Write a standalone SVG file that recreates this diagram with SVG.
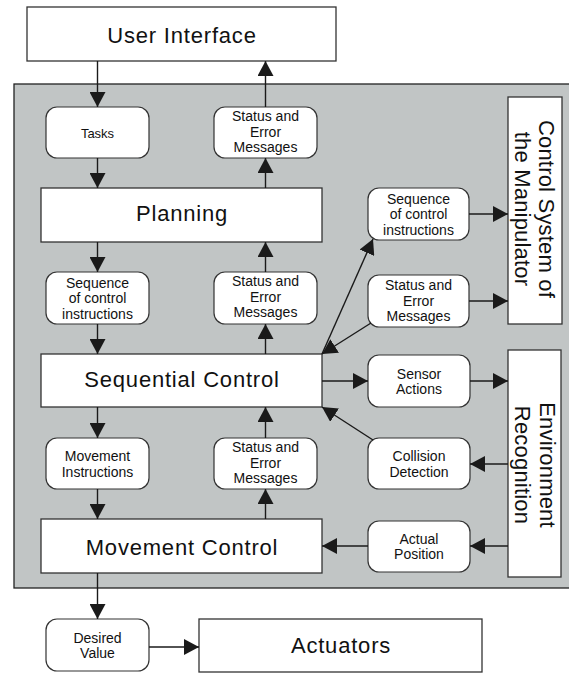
<svg xmlns="http://www.w3.org/2000/svg" width="569" height="673" viewBox="0 0 569 673">
<style>
.box{fill:#fff;stroke:#333;stroke-width:1.3}
.rbox{fill:#fff;stroke:#333;stroke-width:1.2}
.big{font-family:"Liberation Sans",Arial,sans-serif;font-size:22px;fill:#111;text-anchor:middle;letter-spacing:0.8px}
.vert{font-family:"Liberation Sans",Arial,sans-serif;font-size:22px;fill:#111;text-anchor:middle;letter-spacing:0.2px}
.sm{font-family:"Liberation Sans",Arial,sans-serif;font-size:14px;fill:#111;text-anchor:middle}
.cn line{stroke:#1a1a1a;stroke-width:1.4;marker-end:url(#ah)}
</style>
<defs>
<marker id="ah" markerUnits="userSpaceOnUse" markerWidth="17" markerHeight="16" refX="15" refY="8" orient="auto">
<path d="M0,0 L15,8 L0,16 z" fill="#1a1a1a"/>
</marker>
</defs>
<rect width="569" height="673" fill="#fff"/>
<g id="panel"><rect x="14" y="84" width="560" height="504" fill="#c1c5c5" stroke="#222" stroke-width="1.3"/></g>

<g id="user-interface"><rect class="box" x="27" y="7" width="309" height="54"/><text class="big" x="182" y="43">User Interface</text></g>
<g id="tasks"><rect class="rbox" x="46" y="107" width="103" height="51" rx="11"/><text class="sm" x="97.5" y="137.5" style="font-size:13px">Tasks</text></g>
<g id="status1"><rect class="rbox" x="214" y="107" width="103" height="51" rx="11"/><text class="sm" x="265.5" y="121">Status and</text><text class="sm" x="265.5" y="136.5">Error</text><text class="sm" x="265.5" y="152">Messages</text></g>
<g id="planning"><rect class="box" x="41" y="188" width="281" height="54"/><text class="big" x="182" y="221">Planning</text></g>
<g id="seq-left"><rect class="rbox" x="46" y="272" width="103" height="52" rx="11"/><text class="sm" x="97.5" y="287.5">Sequence</text><text class="sm" x="97.5" y="303">of control</text><text class="sm" x="97.5" y="318.5">instructions</text></g>
<g id="status2"><rect class="rbox" x="214" y="272" width="103" height="52" rx="11"/><text class="sm" x="265.5" y="286">Status and</text><text class="sm" x="265.5" y="301.5">Error</text><text class="sm" x="265.5" y="317">Messages</text></g>
<g id="sequential-control"><rect class="box" x="41" y="354" width="281" height="53"/><text class="big" x="182" y="387">Sequential Control</text></g>
<g id="movement-instructions"><rect class="rbox" x="46" y="438" width="103" height="51" rx="11"/><text class="sm" x="97.5" y="461">Movement</text><text class="sm" x="97.5" y="476.5">Instructions</text></g>
<g id="status3"><rect class="rbox" x="214" y="438" width="103" height="51" rx="11"/><text class="sm" x="265.5" y="452">Status and</text><text class="sm" x="265.5" y="467.5">Error</text><text class="sm" x="265.5" y="483">Messages</text></g>
<g id="movement-control"><rect class="box" x="41" y="519" width="281" height="54"/><text class="big" x="182" y="555">Movement Control</text></g>
<g id="desired-value"><rect class="rbox" x="46" y="619" width="103" height="52" rx="11"/><text class="sm" x="97.5" y="643">Desired</text><text class="sm" x="97.5" y="658">Value</text></g>
<g id="actuators"><rect class="box" x="199" y="619" width="283" height="53"/><text class="big" x="341" y="653">Actuators</text></g>

<g id="seq-right"><rect class="rbox" x="368" y="188" width="101" height="52" rx="11"/><text class="sm" x="418.5" y="203.5">Sequence</text><text class="sm" x="418.5" y="219">of control</text><text class="sm" x="418.5" y="234.5">instructions</text></g>
<g id="status-right"><rect class="rbox" x="368" y="275" width="101" height="52" rx="11"/><text class="sm" x="418.5" y="290">Status and</text><text class="sm" x="418.5" y="305.5">Error</text><text class="sm" x="418.5" y="321">Messages</text></g>
<g id="control-system"><rect class="box" x="508" y="97" width="54" height="227"/><text class="vert" transform="translate(539,209) rotate(90)"><tspan x="0" y="0">Control System of</tspan><tspan x="0" y="24">the Manipulator</tspan></text></g>
<g id="sensor-actions"><rect class="rbox" x="368" y="355" width="102" height="52" rx="11"/><text class="sm" x="419" y="378.5">Sensor</text><text class="sm" x="419" y="393.5">Actions</text></g>
<g id="collision-detection"><rect class="rbox" x="368" y="438" width="102" height="51" rx="11"/><text class="sm" x="419" y="461">Collision</text><text class="sm" x="419" y="476.5">Detection</text></g>
<g id="actual-position"><rect class="rbox" x="368" y="521" width="102" height="51" rx="11"/><text class="sm" x="419" y="544">Actual</text><text class="sm" x="419" y="559">Position</text></g>
<g id="environment-recognition"><rect class="box" x="508" y="350" width="53" height="227"/><text class="vert" transform="translate(540,465) rotate(90)"><tspan x="0" y="0">Environment</tspan><tspan x="0" y="25">Recognition</tspan></text></g>

<g id="connectors" class="cn">
<line x1="97.5" y1="61" x2="97.5" y2="107"/>
<line x1="97.5" y1="158" x2="97.5" y2="188"/>
<line x1="97.5" y1="242" x2="97.5" y2="272"/>
<line x1="97.5" y1="324" x2="97.5" y2="354"/>
<line x1="97.5" y1="407" x2="97.5" y2="438"/>
<line x1="97.5" y1="489" x2="97.5" y2="519"/>
<line x1="97.5" y1="573" x2="97.5" y2="619"/>
<line x1="149" y1="647" x2="199" y2="647"/>
<line x1="265.5" y1="107" x2="265.5" y2="61"/>
<line x1="265.5" y1="188" x2="265.5" y2="158"/>
<line x1="265.5" y1="272" x2="265.5" y2="242"/>
<line x1="265.5" y1="354" x2="265.5" y2="324"/>
<line x1="265.5" y1="438" x2="265.5" y2="407"/>
<line x1="265.5" y1="519" x2="265.5" y2="489"/>
<line x1="322" y1="354" x2="373" y2="239"/>
<line x1="469" y1="214" x2="508" y2="214"/>
<line x1="469" y1="301" x2="508" y2="301"/>
<line x1="371" y1="323" x2="322" y2="354"/>
<line x1="322" y1="381" x2="368" y2="381"/>
<line x1="470" y1="381" x2="508" y2="381"/>
<line x1="508" y1="464" x2="470" y2="464"/>
<line x1="373" y1="440" x2="322" y2="407"/>
<line x1="508" y1="546" x2="470" y2="546"/>
<line x1="368" y1="546" x2="322" y2="546"/>
</g>
</svg>
